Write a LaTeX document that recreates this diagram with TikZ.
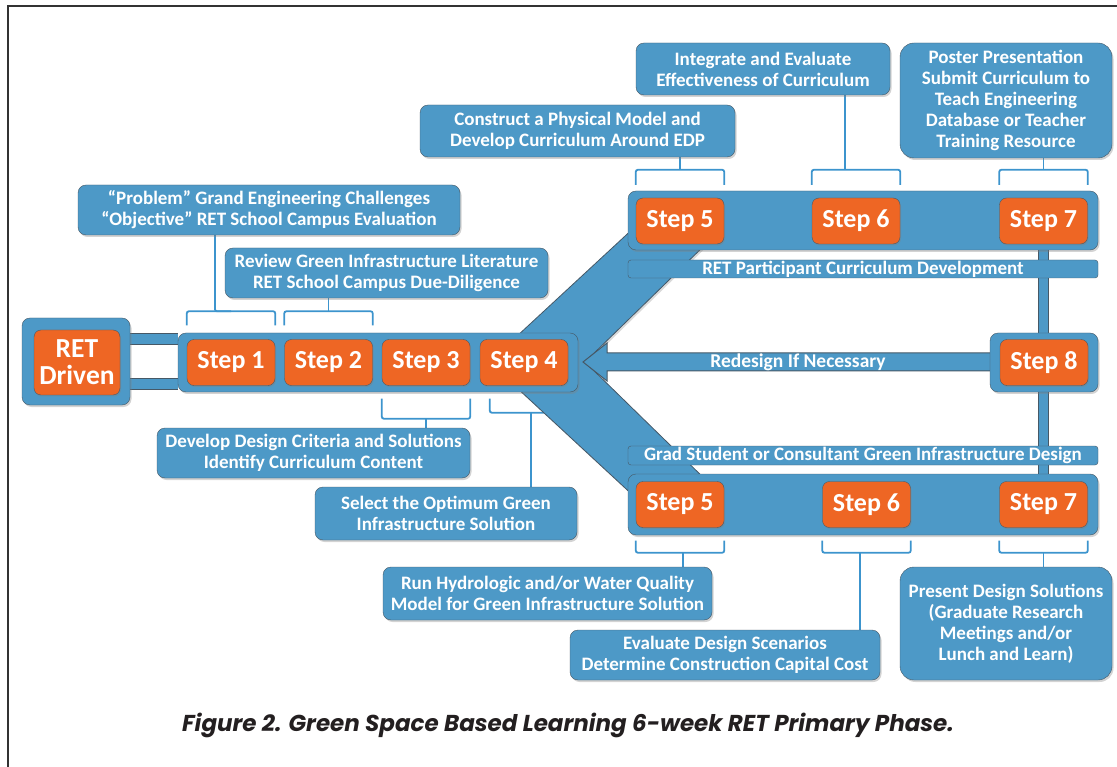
\documentclass[tikz,border=0pt]{standalone}
\usepackage{fontspec}
\setmainfont{Carlito}
\newfontfamily\capfont{Poppins}
\usetikzlibrary{shadows}

\definecolor{retblue}{RGB}{77,153,199}
\definecolor{retorange}{RGB}{238,102,36}
\definecolor{boxline}{RGB}{70,88,102}
\definecolor{linkblue}{RGB}{60,148,205}
\definecolor{framegray}{RGB}{50,50,50}
\definecolor{captext}{RGB}{35,31,32}

\pgfdeclarelayer{background}
\pgfsetlayers{background,main}

\tikzset{
  infobox/.style={draw=boxline, fill=retblue, rounded corners=8pt, text=white,
    font=\fontsize{19}{21}\selectfont\bfseries, align=center, inner sep=0pt,
    drop shadow={shadow xshift=1.5pt, shadow yshift=-2pt, opacity=0.35}},
  rowbox/.style={draw=boxline, fill=retblue, rounded corners=8pt, inner sep=0pt,
    drop shadow={shadow xshift=1.5pt, shadow yshift=-2pt, opacity=0.35}},
  stepbox/.style={draw=boxline, fill=retorange, rounded corners=7pt, text=white,
    font=\fontsize{26}{27}\selectfont\bfseries, align=center, inner sep=0pt,
    minimum width=88pt, minimum height=46pt,
    drop shadow={shadow xshift=1pt, shadow yshift=-1.5pt, opacity=0.4}},
  barbox/.style={draw=boxline, fill=retblue, rounded corners=3pt, text=white,
    font=\fontsize{19}{19}\selectfont\bfseries, inner sep=0pt,
    minimum width=470pt, minimum height=18pt},
  brace/.style={draw=linkblue, line width=1.8pt, rounded corners=2pt},
  linkbar/.style={draw=boxline, line width=0.8pt, double=retblue, double distance=9.5pt},
  arrowshape/.style={fill=retblue, draw=boxline, line width=1pt},
}

\begin{document}
\begin{tikzpicture}[x=1pt, y=-1pt]
    \useasboundingbox (0,0) rectangle (1117,767);
    \draw[framegray, line width=1.5pt] (8,767) -- (8,6) -- (1117,6);

    % left part: RET Driven and steps 1-4
    \node[rowbox, minimum width=108pt, minimum height=87pt] (retrow) at (76,361.5) {};
    \node[stepbox, minimum width=86pt, minimum height=65pt, font=\fontsize{27.5}{28}\selectfont\bfseries] (ret) at (77,362.5) {RET\\[-1pt]Driven};
    \node[rowbox, minimum width=400pt, minimum height=59pt] (row1) at (378,362.5) {};
    \node[stepbox] (s1) at (231,362.5) {Step 1};
    \node[stepbox] (s2) at (328.5,362.5) {Step 2};
    \node[stepbox] (s3) at (426,362.5) {Step 3};
    \node[stepbox] (s4) at (524,362.5) {Step 4};

    % upper branch
    \node[rowbox, minimum width=470pt, minimum height=59pt] (rowtop) at (863,220.5) {};
    \node[stepbox] (t5) at (680,221) {Step 5};
    \node[stepbox] (t6) at (856,221) {Step 6};
    \node[stepbox] (t7) at (1043.5,221) {Step 7};
    \node[barbox] (curr) at (863,269) {RET Participant Curriculum Development};

    % step 8
    \node[rowbox, minimum width=108pt, minimum height=59pt] (row8) at (1044,362.5) {};
    \node[stepbox] (s8) at (1044,362.5) {Step 8};
    \node[font=\fontsize{19.5}{20}\selectfont\bfseries, text=white] (redesign) at (798,362) {Redesign If Necessary};

    % lower branch
    \node[barbox, minimum height=19pt] (grad) at (863,455.5) {Grad Student or Consultant Green Infrastructure Design};
    \node[rowbox, minimum width=470pt, minimum height=61pt] (rowbot) at (863,504.5) {};
    \node[stepbox] (b5) at (680,504.5) {Step 5};
    \node[stepbox] (b6) at (866.5,504.5) {Step 6};
    \node[stepbox] (b7) at (1043.5,504.5) {Step 7};

    % descriptions
    \node[infobox, minimum width=382pt, minimum height=50pt] (problem) at (269,210) {“Problem” Grand Engineering Challenges\\“Objective” RET School Campus Evaluation};
    \node[infobox, minimum width=323pt, minimum height=50pt] (review) at (386.5,273) {Review Green Infrastructure Literature\\RET School Campus Due-Diligence};
    \node[infobox, minimum width=313pt, minimum height=50pt] (develop) at (313.5,453) {Develop Design Criteria and Solutions\\Identify Curriculum Content};
    \node[infobox, minimum width=262pt, minimum height=53pt] (select) at (446,513.5) {Select the Optimum Green\\Infrastructure Solution};
    \node[infobox, minimum width=315pt, minimum height=52pt] (construct) at (577.5,131) {Construct a Physical Model and\\Develop Curriculum Around EDP};
    \node[infobox, minimum width=254pt, minimum height=52pt] (integrate) at (763,69) {Integrate and Evaluate\\Effectiveness of Curriculum};
    \node[infobox, rounded corners=14pt, minimum width=212pt, minimum height=115pt] (poster) at (1006,100.5) {Poster Presentation\\Submit Curriculum to\\Teach Engineering\\Database or Teacher\\Training Resource};
    \node[infobox, minimum width=329pt, minimum height=53pt] (run) at (547.5,593.5) {Run Hydrologic and/or Water Quality\\Model for Green Infrastructure Solution};
    \node[infobox, minimum width=310pt, minimum height=50pt] (evaluate) at (725,655) {Evaluate Design Scenarios\\Determine Construction Capital Cost};
    \node[infobox, rounded corners=14pt, minimum width=212pt, minimum height=113pt] (present) at (1006,623.5) {Present Design Solutions\\(Graduate Research\\Meetings and/or\\Lunch and Learn)};

    \node[font={\capfont\fontsize{23}{26}\selectfont\bfseries\itshape}, text=captext] (caption) at (568,725) {Figure 2. Green Space Based Learning 6-week RET Primary Phase.};

    \begin{pgfonlayer}{background}
    % brackets
    \foreach \s in {s1,s2}
      \draw[brace] ([yshift=14]\s.north west) -- ([yshift=28]\s.north west) -- ([yshift=28]\s.north east) -- ([yshift=14]\s.north east);
    \draw[brace] (problem.south -| 215,0) |- ([yshift=28]s1.north);
    \draw[brace] (review.south -| s2.north) -- ([yshift=28]s2.north);

    \draw[brace] ([yshift=-13]s3.south west) -- ([yshift=-33]s3.south west) -- ([yshift=-33]s3.south east) -- ([yshift=-13]s3.south east);
    \draw[brace] ([yshift=-33]s3.south) -- (develop.north -| s3.south);
    \draw[brace] ([xshift=10,yshift=-13]s4.south west) -- ([xshift=10,yshift=-27]s4.south west) -- ([yshift=-27]s4.south east) -- ([yshift=-13]s4.south east);
    \coordinate (k4) at ([xshift=7,yshift=-27]s4.south);
    \draw[brace] (k4) -- (k4 |- select.north);

    \foreach \s in {t5,t6,t7}
      \draw[brace] ([yshift=13]\s.north west) -- ([yshift=28]\s.north west) -- ([yshift=28]\s.north east) -- ([yshift=13]\s.north east);
    \draw[brace] ([yshift=28]t5.north) -- (construct.south -| t5.north);
    \coordinate (k6) at ([xshift=-11,yshift=28]t6.north);
    \draw[brace] (k6) -- (k6 |- integrate.south);
    \draw[brace] ([yshift=28]t7.north) -- (poster.south -| t7.north);

    \foreach \s in {b5,b6,b7}
      \draw[brace] ([yshift=-13]\s.south west) -- ([yshift=-25]\s.south west) -- ([yshift=-25]\s.south east) -- ([yshift=-13]\s.south east);
    \coordinate (m5) at ([xshift=3,yshift=-25]b5.south);
    \draw[brace] (m5) -- (m5 |- run.north);
    \coordinate (m6) at ([xshift=-6.5,yshift=-25]b6.south);
    \draw[brace] (m6) -- (m6 |- evaluate.north);
    \draw[brace] ([yshift=-25]b7.south) -- (present.north -| b7.south);

    % the fork after step 4
    \fill[retblue, draw=boxline, line width=0.8pt, drop shadow={shadow xshift=1.5pt, shadow yshift=-2pt, opacity=0.3}]
      (489,362) -- (664,200) -- (751,200) -- (585,362) -- (751,524) -- (664,524) -- cycle;

    % bars
    \coordinate (r1) at ([yshift=22.5]retrow.east);
    \coordinate (r2) at ([yshift=-22.5]retrow.east);
    \draw[linkbar] (r1) -- (r1 -| row1.west);
    \draw[linkbar] (r2) -- (r2 -| row1.west);
    \draw[linkbar] (t7) -- (b7);

    % redesign arrow
    \coordinate (notch) at (583,362);
    \draw[arrowshape] (row8.west |- 0,353) -- (607,353) -- (607,343) -- (notch) -- (607,381) -- (607,371) -- (row8.west |- 0,371);
    \end{pgfonlayer}
\end{tikzpicture}
\end{document}
